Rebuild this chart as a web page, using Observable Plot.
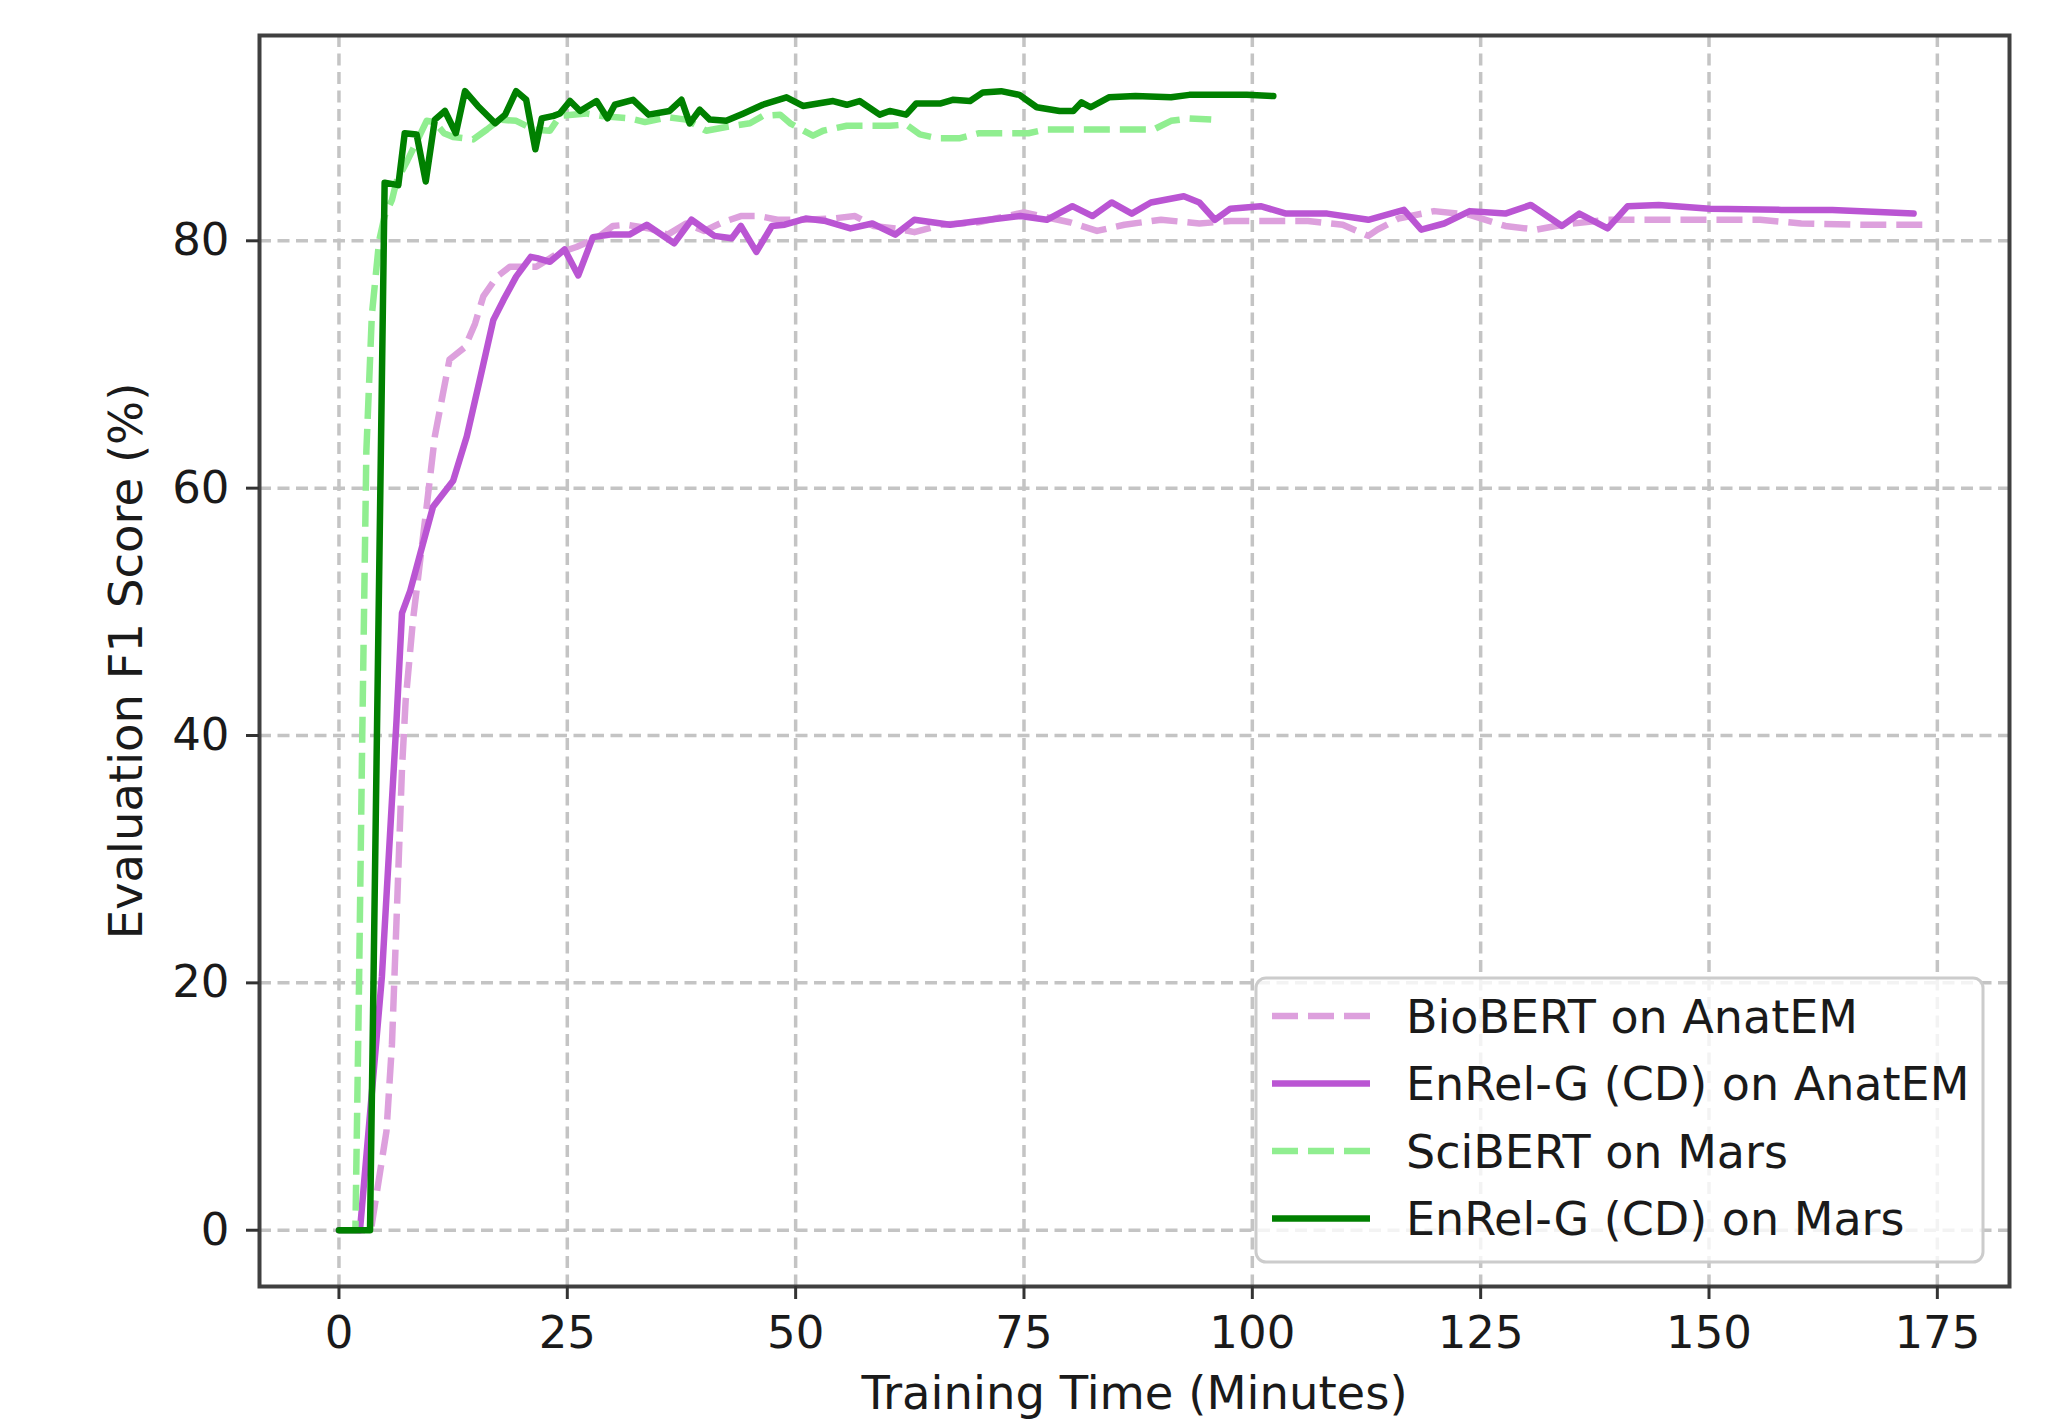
<!DOCTYPE html>
<html>
<head>
<meta charset="utf-8">
<script src="https://cdn.jsdelivr.net/npm/d3@7"></script>
<script src="https://cdn.jsdelivr.net/npm/@observablehq/plot@0.6"></script>
<style>
  html, body { margin: 0; padding: 0; background: #fff; }
  #chart { width: 2051px; height: 1424px; }
</style>
</head>
<body>
<div id="chart"></div>
<script>
// ---- Data ----
const seriesNames = ["BioBERT on AnatEM", "EnRel-G (CD) on AnatEM", "SciBERT on Mars", "EnRel-G (CD) on Mars"];

const bioTime = [0,3.5,3.9,5.2,5.8,6.3,6.9,7.3,8.1,9.6,10.5,11.4,12.1,13.8,14.9,15.8,17.3,18.7,21.6,24,26,28.2,30.0,31.5,34,36,38,40,42,44,46,48,51,54,56.5,58.5,61,63,66,70,75,80,83,86,90,94.2,97.6,106.1,109.9,112.7,113.7,116,119.9,123.8,127.7,131.1,134,138.9,141.7,147.3,155.6,160.1,166.8,173.5];
const bioF1   = [0,0,1.9,8,15,25,37.3,42.8,49.3,58.5,64.2,67.7,70.4,71.4,73.3,75.5,77.1,77.9,77.9,79,79.5,80.2,81.2,81.3,81,80.5,81.4,80.8,81.5,82.0,82.0,81.7,81.7,81.8,82.0,81.2,81.0,80.7,81.3,81.5,82.3,81.5,80.8,81.3,81.7,81.4,81.6,81.6,81.3,80.4,80.9,81.8,82.4,82.1,81.2,80.9,81.3,81.7,81.7,81.7,81.7,81.4,81.3,81.3];

const anatTime = [0,2.3,4.7,6.3,6.9,7.8,8.9,10.3,12.5,14.0,15.4,16.9,18.0,19.4,21.0,21.7,23.1,24.7,26.2,27.8,29.7,31.8,33.7,36.7,38.6,41.1,43.0,44.0,45.7,47.4,48.8,51.1,53.3,56.0,58.4,60.9,63.0,66.9,70,74.6,77.5,80.3,82.5,84.6,86.8,88.9,92.5,94.2,95.9,97.6,100.9,103.7,108.2,112.7,116.6,118.5,121.0,123.8,127.7,130.5,133.9,135.8,138.9,141.1,144.5,150.1,157.9,163.5,172.4];
const anatF1   = [0,0,20.5,41.2,49.9,51.7,54.7,58.5,60.6,64.2,68.7,73.6,75.2,77.1,78.7,78.6,78.3,79.3,77.2,80.3,80.5,80.5,81.3,79.8,81.7,80.4,80.2,81.2,79.1,81.2,81.3,81.8,81.6,81.0,81.4,80.5,81.7,81.3,81.6,82.0,81.7,82.8,82.0,83.1,82.2,83.1,83.6,83.1,81.7,82.6,82.8,82.2,82.2,81.7,82.5,80.9,81.4,82.4,82.2,82.9,81.2,82.2,81.0,82.8,82.9,82.6,82.5,82.5,82.2];

const sciTime = [0,1.8,2.2,2.55,3.0,3.6,4.4,5.0,5.8,6.3,7.5,8.5,9.6,10.5,11.5,12.5,13.6,14.7,16.2,17.6,19.4,21.3,23.1,24.2,27.1,28.7,31.8,33.5,36,38,40.2,42.4,45,46.4,48.3,49.4,51.9,53,55.6,58.5,60.3,62.1,63.6,65.5,68.0,70.1,75.5,77.4,82.3,87.2,89.2,91.1,93.1,95.5];
const sciF1   = [0,0,20,40,63,74,80,82,83.3,84.8,86.5,88,89.7,89.6,88.7,88.4,88.3,88.2,89,89.8,89.7,89,88.9,90.1,90.3,90.1,89.9,89.6,90.0,89.8,88.9,89.2,89.5,90.1,90.2,89.5,88.5,88.9,89.3,89.3,89.3,89.4,88.6,88.3,88.3,88.7,88.7,89.0,89.0,89.0,89.0,89.7,89.9,89.8];

const marsTime = [0,3.4,5.0,6.5,7.2,8.5,9.5,10.5,11.6,12.8,13.8,15.2,17.1,18.2,19.4,20.5,21.5,22.2,23.5,24.2,25.3,26.4,28.2,29.4,30.2,32.2,33.9,36.2,37.5,38.4,39.5,40.6,42.4,44.3,46.4,49.0,50.8,54.1,55.6,57.0,59.2,60.3,62.1,63.2,65.8,67.2,69.1,70.5,72.5,74.5,76.4,78.9,80.4,81.3,82.3,84.3,87.2,91.1,93.1,99.4,102.3];
const marsF1   = [0,0,84.7,84.5,88.7,88.6,84.8,89.8,90.5,88.7,92.1,90.9,89.5,90.2,92.1,91.4,87.4,89.9,90.1,90.3,91.3,90.5,91.3,89.9,91.0,91.4,90.2,90.5,91.4,89.5,90.6,89.8,89.7,90.3,91.0,91.6,90.9,91.3,91.0,91.3,90.2,90.5,90.2,91.1,91.1,91.4,91.3,92.0,92.1,91.8,90.8,90.5,90.5,91.2,90.8,91.6,91.7,91.6,91.8,91.8,91.7];

const xTicks = [0,25,50,75,100,125,150,175];
const yTicks = [0,20,40,60,80];

// ---- Tables ----
const toRows = (t, v) => t.map((d, i) => ({time: d, f1: v[i]}));
const bio = toRows(bioTime, bioF1);
const anat = toRows(anatTime, anatF1);
const sci = toRows(sciTime, sciF1);
const mars = toRows(marsTime, marsF1);

// ---- Styles ----
const styles = [
  {stroke: "#DDA0DD", dash: "26,10"},
  {stroke: "#BA55D3", dash: null},
  {stroke: "#90EE90", dash: "26,10"},
  {stroke: "#008000", dash: null}
];
const lw = 6.5;
const W = 2051, H = 1424;
const mL = 259, mR = 42, mT = 35, mB = 138;
const fs = 45;      // tick labels
const fsLab = 46.5; // axis titles
const fsLeg = 46;   // legend
const gridStyle = {stroke: "#c4c4c4", strokeOpacity: 1, strokeWidth: 3.5, strokeDasharray: "12,6.5"};

const lineMark = (rows, s) => Plot.line(rows, {
  x: "time", y: "f1", stroke: s.stroke, strokeWidth: lw,
  strokeDasharray: s.dash || undefined, strokeLinejoin: "round", strokeLinecap: s.dash ? "butt" : "round"
});

const chart = Plot.plot({
  width: W, height: H,
  marginLeft: mL, marginRight: mR, marginTop: mT, marginBottom: mB,
  style: {fontFamily: "DejaVu Sans", fontSize: fs + "px", color: "#1a1a1a", background: "#fff"},
  x: {domain: [-8.7, 182.9]},
  y: {domain: [-4.55, 96.6]},
  marks: [
    Plot.gridX(xTicks, gridStyle),
    Plot.gridY(yTicks, gridStyle),
    lineMark(bio, styles[0]),
    lineMark(anat, styles[1]),
    lineMark(sci, styles[2]),
    lineMark(mars, styles[3]),
    Plot.frame({stroke: "#404040", strokeWidth: 4}),
    Plot.axisX(xTicks, {tickSize: 13, tickPadding: 17, fontSize: fs, stroke: "#333", strokeWidth: 3, label: null, tickFormat: d => String(d)}),
    Plot.axisY(yTicks, {tickSize: 13, tickPadding: 17, fontSize: fs, stroke: "#333", strokeWidth: 3, label: null, tickFormat: d => String(d)}),
    Plot.text(["Training Time (Minutes)"], {frameAnchor: "bottom", dy: 108, fontSize: fsLab, textAnchor: "middle", lineAnchor: "middle", fill: "#1a1a1a"}),
    Plot.text(["Evaluation F1 Score (%)"], {frameAnchor: "left", dx: -132, rotate: -90, fontSize: fsLab, textAnchor: "middle", lineAnchor: "middle", fill: "#1a1a1a"})
  ]
});

document.getElementById("chart").appendChild(chart);

// ---- Legend (inside the axes, lower right, matplotlib style) ----
const svg = d3.select(chart);
const lgRight = W - mR - 26, lgBottom = H - mB - 24;
const lgW = 727, lgH = 284;
const lgX = lgRight - lgW, lgY = lgBottom - lgH;
const lg = svg.append("g").attr("font-family", "DejaVu Sans").attr("font-size", fsLeg).attr("text-anchor", "start");
lg.append("rect")
  .attr("x", lgX).attr("y", lgY).attr("width", lgW).attr("height", lgH)
  .attr("rx", 10).attr("ry", 10)
  .attr("fill", "#fff").attr("fill-opacity", 0.8)
  .attr("stroke", "#cccccc").attr("stroke-width", 3);
const rowStep = 67.5, firstRow = 38;
seriesNames.forEach((name, i) => {
  const y = lgY + firstRow + i * rowStep;
  const s = styles[i];
  lg.append("line")
    .attr("x1", lgX + 16).attr("x2", lgX + 114).attr("y1", y).attr("y2", y)
    .attr("stroke", s.stroke).attr("stroke-width", lw)
    .attr("stroke-dasharray", s.dash || null);
  lg.append("text")
    .attr("x", lgX + 150).attr("y", y).attr("dy", "0.36em")
    .attr("text-anchor", "start")
    .attr("fill", "#1a1a1a").text(name);
});
</script>
</body>
</html>
